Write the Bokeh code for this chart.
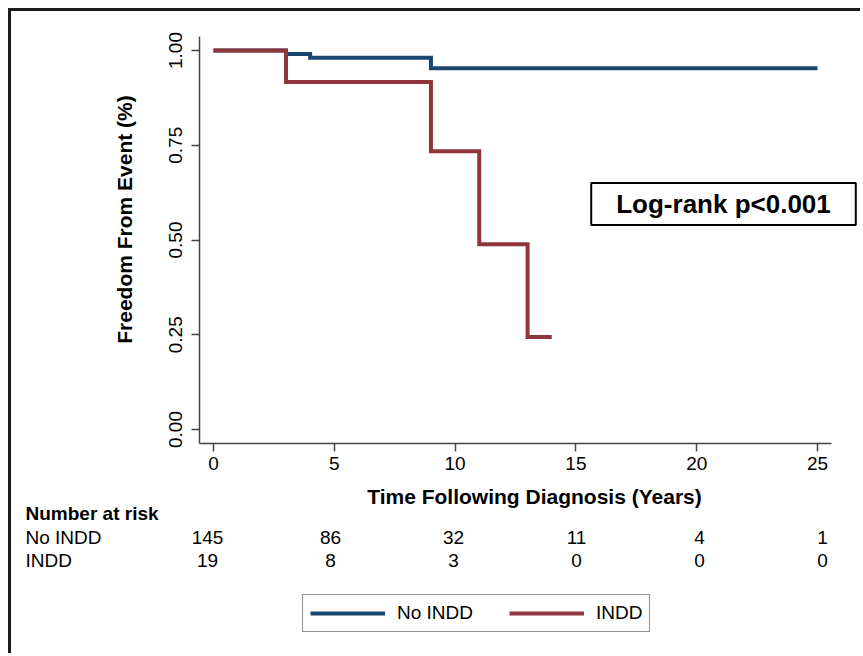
import math
from bokeh.plotting import figure
from bokeh.models import (Range1d, FixedTicker, Label, LabelSet, Legend, LegendItem,
                          ColumnDataSource, LinearAxis)
from bokeh.core.properties import value
from bokeh.embed import file_html
from bokeh.resources import INLINE

# ---------------- data ----------------
x_ticks = [0, 5, 10, 15, 20, 25]
y_ticks = [0.0, 0.25, 0.5, 0.75, 1.0]
y_tick_labels = ["0.00", "0.25", "0.50", "0.75", "1.00"]

no_indd_time = [0, 3, 4, 9, 25]
no_indd_surv = [1.0, 0.991, 0.981, 0.953, 0.953]

indd_time = [0, 3, 9, 11, 13, 14]
indd_surv = [1.0, 0.917, 0.734, 0.489, 0.244, 0.244]

risk_times = [0, 5, 10, 15, 20, 25]
risk_no_indd = [145, 86, 32, 11, 4, 1]
risk_indd = [19, 8, 3, 0, 0, 0]

group_names = ["No INDD", "INDD"]
risk_title = "Number at risk"
x_title = "Time Following Diagnosis (Years)"
y_title = "Freedom From Event (%)"
pvalue_text = "Log-rank p<0.001"

# ---------------- layout (page pixels) ----------------
FONT = "Liberation Sans"
NAVY = "#1a476f"
MAROON = "#90353b"
AXIS = "#444444"

W, H = 852, 645              # canvas size
OX, OY = 11, 11              # page position of the canvas (8px margin + 3px border)
FL, FR, FT, FB = 199, 831, 36, 443   # plot region edges
X0_PX, X25_PX = 213, 817     # page x of t=0 and t=25
Y0_PX, Y1_PX = 429, 50       # page y of 0.00 and 1.00

sx = (X25_PX - X0_PX) / 25.0
sy = (Y0_PX - Y1_PX) / 1.0


def px_x(px):
    return (px - X0_PX) / sx


def px_y(py):
    return (Y0_PX - py) / sy


# the frame spans the whole canvas; axes are pinned inside it
p = figure(width=W, height=H, output_backend="svg", toolbar_location=None,
           x_range=Range1d(px_x(OX), px_x(OX + W)),
           y_range=Range1d(px_y(OY + H), px_y(OY)),
           x_axis_type=None, y_axis_type=None,
           min_border=0, min_border_left=0, min_border_right=0,
           min_border_top=0, min_border_bottom=0,
           background_fill_color="white", border_fill_color="white")
p.styles = {"border-top": "3px solid #1c1c1c", "border-left": "3px solid #1c1c1c",
            "margin-left": "8px", "margin-top": "8px"}
p.outline_line_color = None
p.grid.visible = False

# risk-table x scale (slightly wider spacing, as in the reference)
R0_PX, R25_PX = 207, 822
rs = (R25_PX - R0_PX) / 25.0
p.extra_x_ranges = {"risk": Range1d((OX - R0_PX) / rs, (OX + W - R0_PX) / rs)}

xaxis = LinearAxis(ticker=FixedTicker(ticks=x_ticks), fixed_location=px_y(FB),
                   bounds=(px_x(FL), px_x(FR)))
yaxis = LinearAxis(ticker=FixedTicker(ticks=y_ticks), fixed_location=px_x(FL),
                   bounds=(px_y(FB), px_y(FT)))
yaxis.major_label_overrides = {t: s for t, s in zip(y_ticks, y_tick_labels)}
yaxis.major_label_orientation = "vertical"
for ax in (xaxis, yaxis):
    ax.axis_line_color = AXIS
    ax.axis_line_width = 1.5
    ax.major_tick_line_color = AXIS
    ax.major_tick_line_width = 1.5
    ax.major_tick_out = 8
    ax.major_tick_in = 0
    ax.minor_tick_line_color = None
    ax.major_label_text_font = FONT
    ax.major_label_text_font_size = "19px"
    ax.major_label_text_color = "black"
xaxis.major_label_standoff = 5
yaxis.major_label_standoff = 10
p.add_layout(xaxis, "below")
p.add_layout(yaxis, "left")

# ---------------- curves ----------------
r_no = p.step(no_indd_time, no_indd_surv, mode="after", line_color=NAVY, line_width=4,
              line_join="miter")
r_in = p.step(indd_time, indd_surv, mode="after", line_color=MAROON, line_width=4,
              line_join="miter")

# ---------------- axis titles ----------------
p.add_layout(Label(x=px_x(534), y=px_y(496), text=x_title, text_align="center",
                   text_baseline="middle", text_font=FONT, text_font_style="bold",
                   text_font_size="21px", text_color="black"))
p.add_layout(Label(x=px_x(124), y=px_y(219), text=y_title, text_align="center",
                   text_baseline="middle", angle=math.pi / 2, text_font=FONT,
                   text_font_style="bold", text_font_size="21px", text_color="black"))

# ---------------- log-rank box ----------------
p.add_layout(Label(x=px_x(723), y=px_y(203.5), text=pvalue_text, text_align="center",
                   text_baseline="middle", text_font=FONT, text_font_style="bold",
                   text_font_size="26px", text_color="black",
                   border_line_color="black", border_line_width=2,
                   background_fill_color="white",
                   padding=dict(left=25, right=25, top=6, bottom=6)))

# ---------------- number at risk table ----------------
p.add_layout(Label(x=px_x(25), y=px_y(513), text=risk_title, text_align="left",
                   text_baseline="middle", text_font=FONT, text_font_style="bold",
                   text_font_size="19px", text_color="black"))
row_py = [537, 560]
for name, py in zip(group_names, row_py):
    p.add_layout(Label(x=px_x(25), y=px_y(py), text=name, text_align="left",
                       text_baseline="middle", text_font=FONT, text_font_size="19px",
                       text_color="black"))
for counts, py in zip([risk_no_indd, risk_indd], row_py):
    src = ColumnDataSource(dict(x=risk_times, y=[px_y(py)] * len(risk_times),
                                t=[str(c) for c in counts]))
    p.add_layout(LabelSet(x="x", y="y", text="t", source=src, x_range_name="risk",
                          text_align="center", text_baseline="middle",
                          text_font=value(FONT), text_font_size="19px",
                          text_color="black"))

# ---------------- legend ----------------
LEG_LEFT, LEG_BOTTOM = 302, 632
legend = Legend(items=[LegendItem(label=group_names[0], renderers=[r_no]),
                       LegendItem(label=group_names[1], renderers=[r_in])],
                orientation="horizontal",
                location=(LEG_LEFT - OX, H - (LEG_BOTTOM - OY)),
                border_line_color="#222222", border_line_width=1.5,
                background_fill_color="white", background_fill_alpha=1.0,
                label_text_font=FONT, label_text_font_size="19px",
                label_text_color="black", glyph_width=75, glyph_height=16,
                label_standoff=12, spacing=36, padding=7, margin=0)
p.add_layout(legend, "center")

open("out.html", "w").write(file_html(p, INLINE))
